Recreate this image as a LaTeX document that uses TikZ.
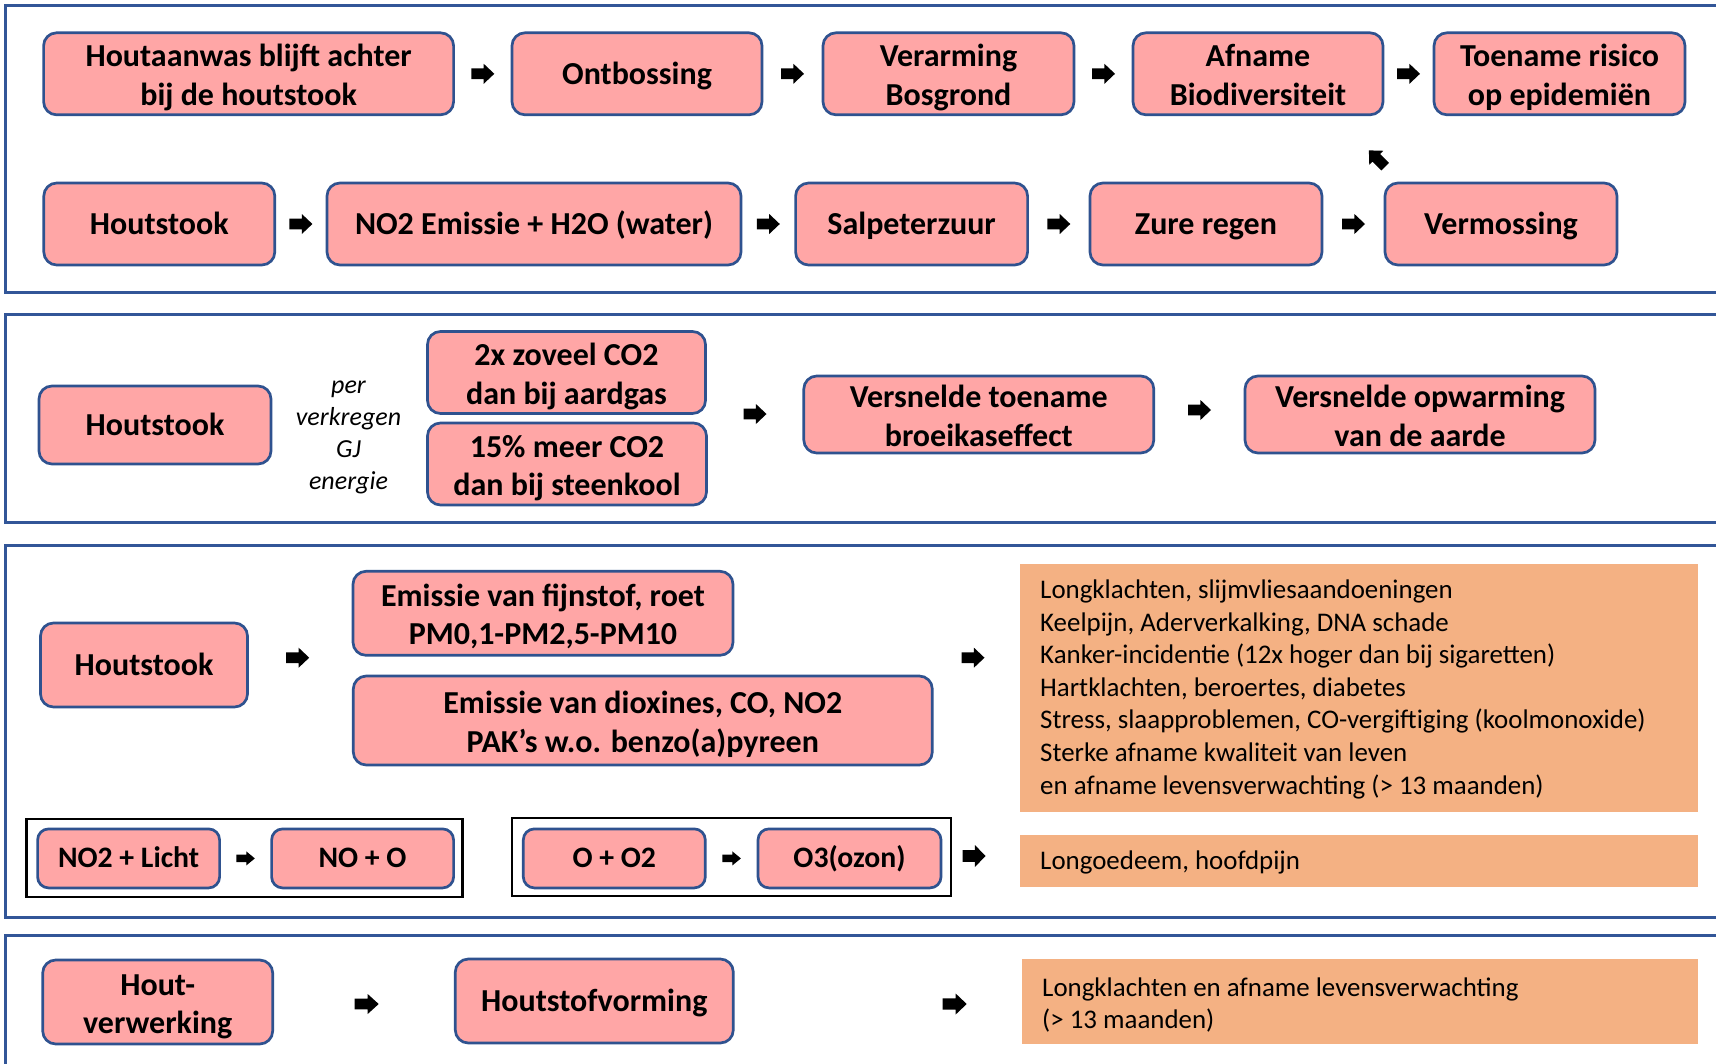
\documentclass[tikz,border=0pt]{standalone}
\usepackage{fontspec}
\setmainfont{Carlito}
\usetikzlibrary{calc}
\definecolor{pinkfill}{RGB}{255,166,166}
\definecolor{boxblue}{RGB}{47,82,143}
\definecolor{panelblue}{RGB}{50,86,152}
\definecolor{orangefill}{RGB}{244,177,131}
\newcommand\blockarr[4]{\fill[black, shift={#1}, rotate=#2] ({-#3/2},{-0.27*#4}) -- ({0.04*#3},{-0.27*#4}) -- ({0.04*#3},{-#4/2}) -- ({#3/2},0) -- ({0.04*#3},{#4/2}) -- ({0.04*#3},{0.27*#4}) -- ({-#3/2},{0.27*#4}) -- cycle;}
\begin{document}
\begin{tikzpicture}[x=1pt, y=-1pt,
  pbox/.style={draw=boxblue, line width=2.7pt, fill=pinkfill, rounded corners=13pt, align=center, inner sep=0pt, font=\fontsize{32}{38.5}\selectfont\bfseries, text height=25pt, text depth=3.4pt},
  ptwo/.style={pbox, text height=70pt, text depth=7pt},
  sbox/.style={pbox, font=\fontsize{29.7}{35}\selectfont\bfseries, rounded corners=11pt, text height=22pt, text depth=4.2pt},
  obox/.style={fill=orangefill, draw=none, inner sep=0pt},
  otext/.style={align=left, anchor=north west, inner sep=0pt, font=\fontsize{26.9}{32.6}\selectfont},
  itext/.style={align=center, anchor=north, inner sep=0pt, font=\fontsize{26}{32}\selectfont\itshape},
  blackbox/.style={draw=black, line width=2.7pt, inner sep=0pt},
  panel/.style={draw=panelblue, line width=3pt}]
\useasboundingbox (0,0) rectangle (1716,1063);
\fill[white] (0,0) rectangle (1716,1063);
% panels
\draw[panel] (1730,5) -- (5.5,5) -- (5.5,292) -- (1730,292);
\draw[panel] (1730,314) -- (5.5,314) -- (5.5,522) -- (1730,522);
\draw[panel] (1730,545) -- (5.5,545) -- (5.5,917) -- (1730,917);
\draw[panel] (1730,935) -- (5.5,935) -- (5.5,1070);
% panel 1, row 1
\node[ptwo, minimum width=410, minimum height=82] (a1) at (248.6,73.8) {Houtaanwas blijft achter\\bij de houtstook};
\node[pbox, minimum width=250, minimum height=82] (a2) at (637,73.8) {Ontbossing};
\node[ptwo, minimum width=251, minimum height=82] (a3) at (948.5,73.8) {Verarming\\Bosgrond};
\node[ptwo, minimum width=250, minimum height=82] (a4) at (1258,73.8) {Afname\\Biodiversiteit};
\node[ptwo, minimum width=251, minimum height=82] (a5) at (1559.5,73.8) {Toename risico\\op epidemiën};
% panel 1, row 2
\node[pbox, minimum width=231, minimum height=82] (b1) at (159.3,224) {Houtstook};
\node[pbox, minimum width=414, minimum height=82] (b2) at (534,224) {NO2 Emissie + H2O (water)};
\node[pbox, minimum width=232, minimum height=82] (b3) at (911.6,224) {Salpeterzuur};
\node[pbox, minimum width=232, minimum height=82] (b4) at (1206,224) {Zure regen};
\node[pbox, minimum width=232, minimum height=82] (b5) at (1501,224) {Vermossing};
\coordinate (ra1) at ($(a1.east)!0.5!(a2.west)$);
\coordinate (ra2) at ($(a2.east)!0.5!(a3.west)$);
\coordinate (ra3) at ($(a3.east)!0.5!(a4.west)$);
\coordinate (ra4) at ($(a4.east)!0.5!(a5.west)$);
\coordinate (rb1) at ($(b1.east)!0.5!(b2.west)$);
\coordinate (rb2) at ($(b2.east)!0.5!(b3.west)$);
\coordinate (rb3) at ($(b3.east)!0.5!(b4.west)$);
\coordinate (rb4) at ($(b4.east)!0.5!(b5.west)$);
\coordinate (rd) at (1377,158.5);
\foreach \c in {ra1,ra2,ra3,ra4,rb1,rb2,rb3,rb4} {\blockarr{(\c)}{0}{23}{20}}
\blockarr{(rd)}{135}{23}{20}
% panel 2
\node[pbox, minimum width=232, minimum height=78] (c1) at (155,425) {Houtstook};
\node[itext, text height=116pt] (ci) at (348.5,373.5) {per\\verkregen\\GJ\\energie};
\node[ptwo, minimum width=278, minimum height=82] (c2) at (566.5,372.5) {2x zoveel CO2\\dan bij aardgas};
\node[ptwo, minimum width=279, minimum height=82] (c3) at (567,464) {15\% meer CO2\\dan bij steenkool};
\node[ptwo, minimum width=350, minimum height=77] (c4) at (978.8,414.5) {Versnelde toename\\broeikaseffect};
\node[ptwo, minimum width=350, minimum height=77] (c5) at (1420,414.5) {Versnelde opwarming\\van de aarde};
\coordinate (rc1) at (755,414);
\coordinate (rc2) at (1199.5,410);
\blockarr{(rc1)}{0}{23}{20}
\blockarr{(rc2)}{0}{23}{20}
% panel 3
\node[pbox, minimum width=207, minimum height=84] (d1) at (144,665) {Houtstook};
\node[ptwo, minimum width=380, minimum height=84] (d2) at (543,613.3) {Emissie van fijnstof, roet\\PM0,1-PM2,5-PM10};
\node[ptwo, minimum width=579, minimum height=89] (d3) at (642.8,720.5) {Emissie van dioxines, CO, NO2\\PAK’s w.o. benzo(a)pyreen};
\node[obox, minimum width=678, minimum height=248] (o1) at (1359,687.5) {};
\node[otext, text height=215.6pt] (o1t) at (1040,578.3) {Longklachten, slijmvliesaandoeningen\\Keelpijn, Aderverkalking, DNA schade\\Kanker-incidentie (12x hoger dan bij sigaretten)\\Hartklachten, beroertes, diabetes\\Stress, slaapproblemen, CO-vergiftiging (koolmonoxide)\\Sterke afname kwaliteit van leven\\en afname levensverwachting (> 13 maanden)};
\coordinate (rd1) at (297.7,657.7);
\coordinate (rd2) at (973,657.7);
\blockarr{(rd1)}{0}{23}{20}
\blockarr{(rd2)}{0}{23}{20}
\node[blackbox, minimum width=436, minimum height=78] (e0) at (244.8,857.9) {};
\node[blackbox, minimum width=439, minimum height=78] (e5) at (731.4,856.9) {};
\node[sbox, minimum width=182, minimum height=59] (e1) at (128.6,858.4) {NO2 + Licht};
\node[sbox, minimum width=182, minimum height=59] (e2) at (362.6,858.4) {NO + O};
\node[sbox, minimum width=182, minimum height=59] (e3) at (614.3,858.4) {O + O2};
\node[sbox, minimum width=183, minimum height=59] (e4) at (849.5,858.4) {O3(ozon)};
\coordinate (re1) at ($(e1.east)!0.5!(e2.west)$);
\coordinate (re2) at ($(e3.east)!0.5!(e4.west)$);
\coordinate (re3) at (974,856);
\blockarr{(re1)}{0}{18.5}{14}
\blockarr{(re2)}{0}{18.5}{14}
\blockarr{(re3)}{0}{23}{22}
\node[obox, minimum width=678, minimum height=51.7] (o2) at (1359,860.9) {};
\node[otext, anchor=base west] (o2t) at (1040,869.5) {Longoedeem, hoofdpijn};
% panel 4
\node[ptwo, minimum width=230, minimum height=84] (f1) at (157.7,1002) {Hout-\\verwerking};
\node[pbox, minimum width=278, minimum height=84] (f2) at (594.3,1001) {Houtstofvorming};
\coordinate (rf1) at (366.7,1004);
\coordinate (rf2) at (954.7,1004);
\blockarr{(rf1)}{0}{24}{20}
\blockarr{(rf2)}{0}{24}{21}
\node[obox, minimum width=676, minimum height=85] (o3) at (1360,1001.8) {};
\node[otext, font=\fontsize{26.9}{32.4}\selectfont, text height=52.4pt] (o3t) at (1042,976.3) {Longklachten en afname levensverwachting\\(> 13 maanden)};
\end{tikzpicture}
\end{document}
